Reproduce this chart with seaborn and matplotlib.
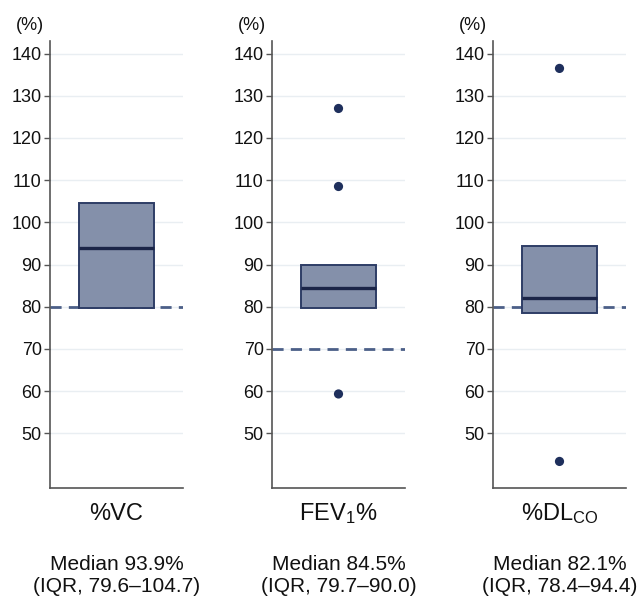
import matplotlib
matplotlib.use("Agg")
import matplotlib.pyplot as plt
import seaborn as sns
import pandas as pd

labels = ["%VC", "FEV$_1$%", "%DL$_{CO}$"]
medians = [93.9, 84.5, 82.1]
q1 = [79.6, 79.7, 78.4]
q3 = [104.7, 90.0, 94.4]
ref_lines = [80, 70, 80]
outliers = [[], [127.0, 108.5, 59.3], [136.5, 43.3]]
notes = ["Median 93.9%", "Median 84.5%", "Median 82.1%"]
iqr_notes = ["(IQR, 79.6\u2013104.7)", "(IQR, 79.7\u201390.0)", "(IQR, 78.4\u201394.4)"]
yticks = [50, 60, 70, 80, 90, 100, 110, 120, 130, 140]

sns.set_theme(style="white")
plt.rcParams["font.family"] = ["Liberation Sans", "DejaVu Sans"]
plt.rcParams["mathtext.default"] = "regular"

box_fill = "#8490aa"
box_edge = "#2e3d66"
med_col = "#1b2548"
dot_col = "#1e2f5c"
dash_col = "#4c5f88"
grid_col = "#e9eef2"
spine_col = "#555555"

W, H = 643, 602
fig = plt.figure(figsize=(W / 100, H / 100), dpi=100)

lefts = [50, 272, 493]
ax_w = 133
ax_bottom = 488
ax_top = 41

for i in range(3):
    ax = fig.add_axes([lefts[i] / W, 1 - ax_bottom / H, ax_w / W, (ax_bottom - ax_top) / H])
    ax.set_xlim(-0.5, 0.5)
    ax.set_ylim(37, 143)

    # light horizontal grid
    for t in yticks:
        ax.axhline(t, color=grid_col, lw=1.0, zorder=0)

    # reference (lower limit) line
    ax.axhline(ref_lines[i], color=dash_col, lw=2.0, ls=(0, (4, 2.6)), zorder=1)

    stats = [{"med": medians[i], "q1": q1[i], "q3": q3[i],
              "whislo": q1[i], "whishi": q3[i], "fliers": []}]
    ax.bxp(stats, positions=[0], widths=0.56, showcaps=False, showfliers=False,
           patch_artist=True,
           boxprops=dict(facecolor=box_fill, edgecolor=box_edge, linewidth=1.4),
           medianprops=dict(color=med_col, linewidth=2.4),
           whiskerprops=dict(linewidth=0), zorder=2)

    if outliers[i]:
        df = pd.DataFrame({"x": [0.0] * len(outliers[i]), "y": outliers[i]})
        sns.scatterplot(data=df, x="x", y="y", ax=ax, color=dot_col, s=44,
                        edgecolor="none", zorder=3)

    ax.set_yticks(yticks)
    ax.set_xticks([])
    ax.set_xlabel("")
    ax.set_ylabel("")
    ax.tick_params(axis="y", left=True, length=4, width=1, color=spine_col,
                   pad=2, labelsize=13, labelcolor="#111111")
    for s in ["top", "right"]:
        ax.spines[s].set_visible(False)
    for s in ["left", "bottom"]:
        ax.spines[s].set_color(spine_col)
        ax.spines[s].set_linewidth(1.2)

    cx = (lefts[i] + ax_w / 2) / W
    fig.text((lefts[i] - 20) / W, 1 - 25 / H, "(%)", ha="center", va="center",
             fontsize=13, color="#111111")
    fig.text(cx, 1 - 514 / H, labels[i], ha="center", va="center",
             fontsize=17, color="#111111")
    fig.text(cx, 1 - 565 / H, notes[i], ha="center", va="center",
             fontsize=15, color="#111111")
    fig.text(cx, 1 - 586 / H, iqr_notes[i], ha="center", va="center",
             fontsize=15, color="#111111")

fig.savefig("out.png", dpi=100)
